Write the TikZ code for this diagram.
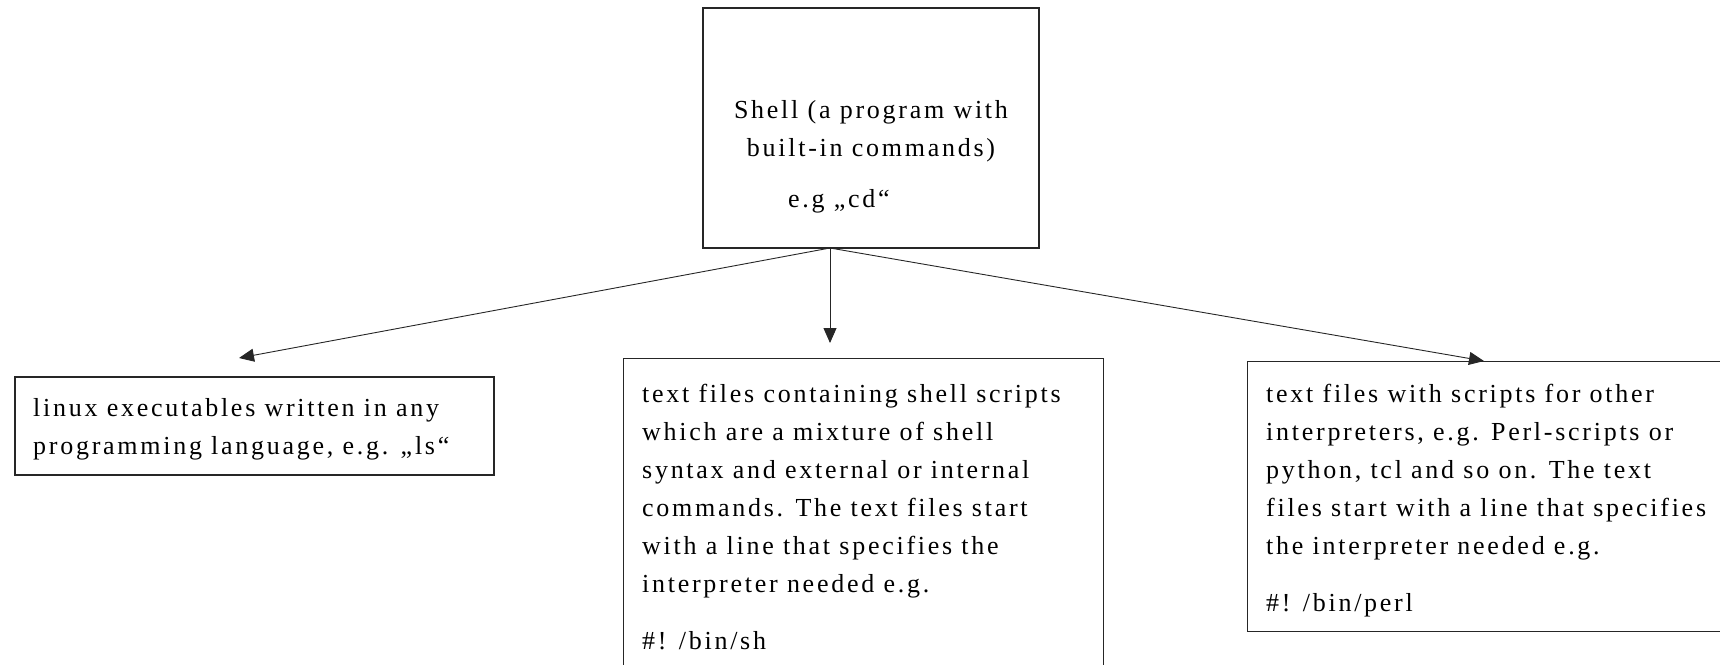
\documentclass[tikz,border=0pt]{standalone}
\usepackage{fontspec}
\setmainfont{Liberation Serif}[LetterSpace=10.5]
\usetikzlibrary{arrows.meta}
\tikzset{
  box/.style={draw=black!85, line width=1.3pt, rectangle, inner sep=0pt},
  bodyfont/.style={font=\fontsize{26}{38}\selectfont},
  txt/.style={anchor=north west, inner sep=0pt, align=left, bodyfont},
  link/.style={draw=black!85, line width=0.9pt, -{Triangle[length=15pt,width=13pt]}},
}
% strut fixing the top of the first line 20pt above its baseline
\newcommand\firstline{\rule{0pt}{20pt}}
\begin{document}
\begin{tikzpicture}[x=1pt, y=-1pt]
  \clip (0,0) rectangle (1720,664);

  % boxes
  \node[box, minimum width=336pt, minimum height=240pt] (shell) at (871,128) {};
  \node[box, minimum width=479pt, minimum height=98pt] (bin) at (254.5,426) {};
  \node[box, minimum width=480pt, minimum height=400pt, anchor=north west] (sh) at (623,358) {};
  \node[box, minimum width=600pt, minimum height=270pt, anchor=north west] (perl) at (1247,361) {};

  % texts
  \node[txt, anchor=north, align=center] (shelltxt) at (871,98)
    {\firstline Shell (a program with\\built-in commands)};
  \node[anchor=base west, inner sep=0pt, bodyfont] (cdtxt) at (788,207) {e.g „cd“};

  \node[txt] (bintxt) at (33,396)
    {\firstline linux executables written in any\\programming language, e.g. „ls“};

  \node[txt] (shtxt) at (642,382)
    {\firstline text files containing shell scripts\\
     which are a mixture of shell\\
     syntax and external or internal\\
     commands. The text files start\\
     with a line that specifies the\\
     interpreter needed e.g.\\[19pt]
     \#! /bin/sh};

  \node[txt] (perltxt) at (1266,382)
    {\firstline text files with scripts for other\\
     interpreters, e.g. Perl-scripts or\\
     python, tcl and so on. The text\\
     files start with a line that specifies\\
     the interpreter needed e.g.\\[19pt]
     \#! /bin/perl};

  % connectors
  \coordinate (fork) at (830,248);
  \coordinate (tipL) at (239,358);
  \coordinate (tipM) at (830,343);
  \coordinate (tipR) at (1484,361);
  \draw[link] (fork) -- (tipL);
  \draw[link] (fork) -- (tipM);
  \draw[link] (fork) -- (tipR);
\end{tikzpicture}
\end{document}
